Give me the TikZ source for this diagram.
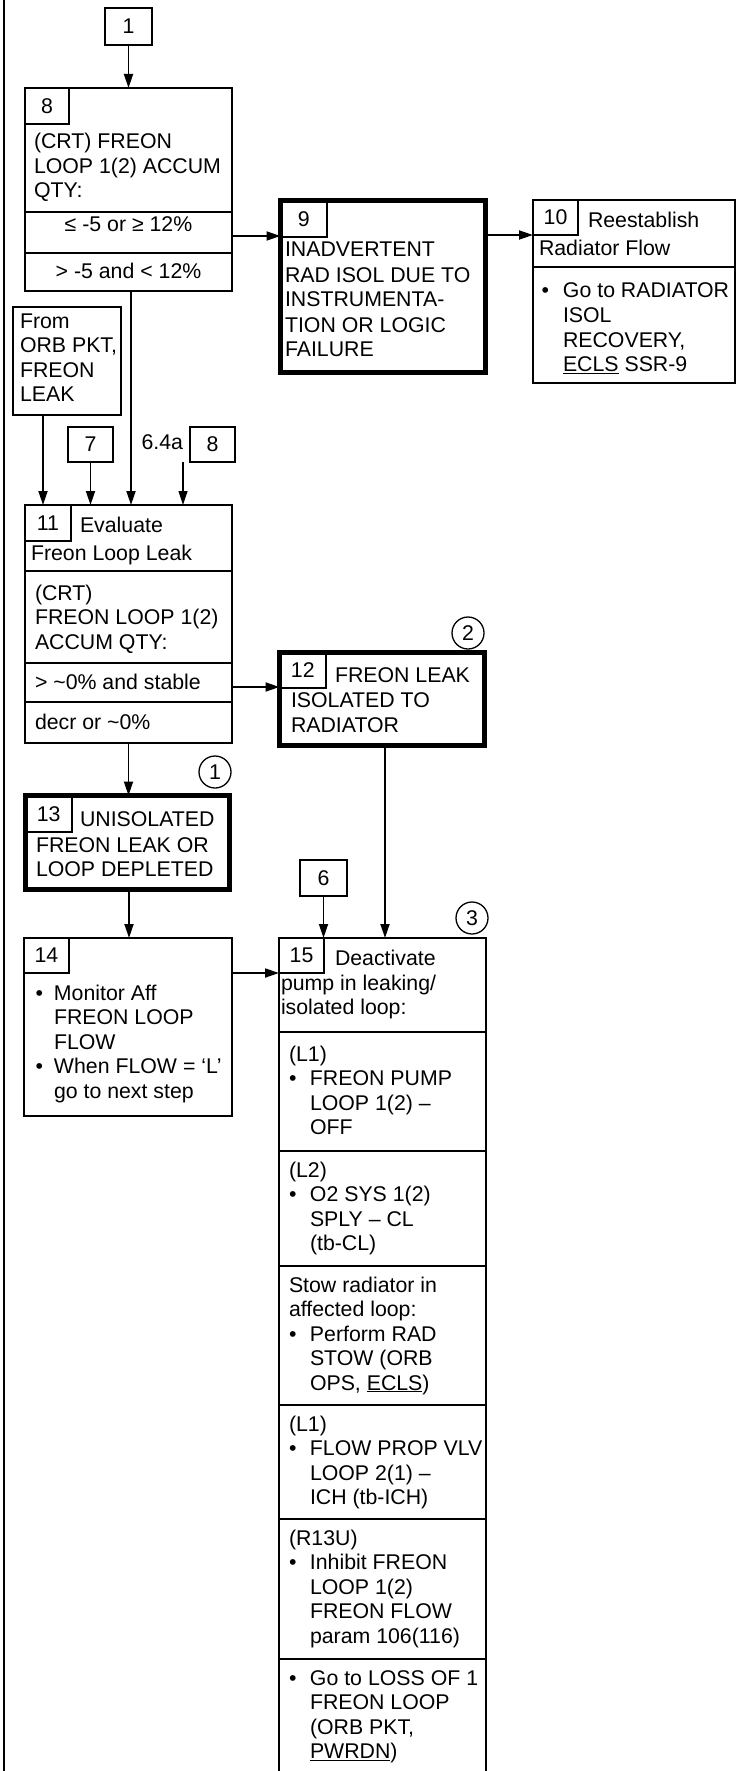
\documentclass[tikz,border=0pt]{standalone}
\usepackage{fontspec}
\setmainfont{Liberation Sans}
\usetikzlibrary{arrows.meta}
\newcommand\fs{\fontsize{21.3pt}{24.5pt}\selectfont}
\newcommand\bitm[2][21pt]{\par\hangindent=#1\hangafter=1\noindent\makebox[#1][l]{\textbullet}#2\par}
\newcommand\ptext[1]{\parbox[t]{300pt}{#1}}
\begin{document}
\begin{tikzpicture}[x=1pt,y=-1pt,
  every node/.style={font=\fs, inner sep=0pt, outer sep=0pt},
  bx/.style={draw, line width=2pt, anchor=north west, rectangle},
  thickbx/.style={draw, line width=5pt, anchor=north west, rectangle},
  tg/.style={draw, line width=1.3pt, anchor=north west, rectangle},
  txt/.style={anchor=base west},
  ctxt/.style={anchor=base},
  circ/.style={draw, circle, line width=1.3pt, minimum size=32pt},
  arr/.style={line width=1.8pt, -{Triangle[length=14pt,width=9pt]}},
  arrthin/.style={line width=1.2pt, -{Triangle[length=14pt,width=9pt]}},
  dv/.style={line width=2pt},
]
\useasboundingbox (0,0) rectangle (736,1771);
\clip (0,0) rectangle (736,1771);
\draw[line width=2.3pt] (4,0) -- (4,1771);

% box 1
\node[tg, line width=1.6pt, minimum width=47pt, minimum height=37pt] (n1) at (105,8) {1};

% step 8
\node[bx, minimum width=207pt, minimum height=203pt] (b8) at (25,88) {};
\node[tg, minimum width=44pt, minimum height=36pt] (t8) at (25,88) {8};
\draw[dv] (b8.west |- 0,212) -- (b8.east |- 0,212);
\draw[dv] (b8.west |- 0,253) -- (b8.east |- 0,253);
\node[txt] (b8a) at (34,149) {\ptext{(CRT) FREON\\LOOP 1(2) ACCUM\\QTY:}};
\node[ctxt] (b8b) at (b8.center |- 0,232) {≤ -5 or ≥ 12\%};
\node[ctxt] (b8c) at (b8.center |- 0,278) {> -5 and < 12\%};

% step 9
\node[tg, minimum width=46.5pt, minimum height=36.5pt] (t9) at (280.5,200.5) {\raisebox{-3pt}{9}};
\node[thickbx, minimum width=205pt, minimum height=172pt] (b9) at (280.5,200.5) {};
\node[txt] (b9a) at (285,257) {\ptext{\baselineskip=25pt INADVERTENT\\RAD ISOL DUE TO\\INSTRUMENTA-\\TION OR LOGIC\\FAILURE}};

% step 10
\node[bx, minimum width=202pt, minimum height=183pt] (b10) at (533,200) {};
\node[tg, minimum width=45pt, minimum height=35pt] (t10) at (533,200) {10};
\draw[dv] (b10.west |- 0,267) -- (b10.east |- 0,267);
\node[txt] (b10a) at (588,228) {Reestablish};
\node[txt] (b10b) at (539,256) {Radiator Flow};
\node[txt] (b10c) at (541.5,298) {\ptext{\bitm[21.5pt]{Go to RADIATOR\\ISOL\\RECOVERY,\\\underline{ECLS} SSR-9}}};

% from box
\node[bx, line width=1.6pt, minimum width=108pt, minimum height=108pt] (from) at (13,307) {};
\node[txt] (fromt) at (20,328) {\ptext{From\\ORB PKT,\\FREON\\LEAK}};

% boxes 7 and 8, label 6.4a
\node[tg, line width=1.6pt, minimum width=45pt, minimum height=35pt] (n7) at (68,427) {7};
\node[tg, line width=1.6pt, minimum width=45pt, minimum height=35pt] (n8) at (190,427) {8};
\node[anchor=base east] (l64) at (183,449) {6.4a};
\coordinate (c64) at (183,462);

% step 11
\node[bx, minimum width=207pt, minimum height=238pt] (b11) at (25,505) {};
\node[tg, minimum width=46pt, minimum height=36pt] (t11) at (25,505) {11};
\draw[dv] (b11.west |- 0,571) -- (b11.east |- 0,571);
\draw[dv] (b11.west |- 0,663) -- (b11.east |- 0,663);
\draw[dv] (b11.west |- 0,702) -- (b11.east |- 0,702);
\node[txt] (b11a) at (80,532) {Evaluate};
\node[txt] (b11b) at (31,560) {Freon Loop Leak};
\node[txt] (b11c) at (35,600) {\ptext{(CRT)\\FREON LOOP 1(2)\\ACCUM QTY:}};
\node[txt] (b11d) at (35,689) {> \textasciitilde0\% and stable};
\node[txt] (b11e) at (35,729) {decr or \textasciitilde0\%};

% step 12
\node[tg, minimum width=46.5pt, minimum height=35.5pt] (t12) at (279.5,652.5) {\raisebox{-2pt}{12}};
\node[thickbx, minimum width=205pt, minimum height=93pt] (b12) at (279.5,652.5) {};
\node[txt] (b12a) at (335,682) {FREON LEAK};
\node[txt] (b12b) at (291,707) {\ptext{\baselineskip=25.5pt ISOLATED TO\\RADIATOR}};
\node[circ] (c2) at (468,633) {2};

% step 13
\node[tg, minimum width=46.5pt, minimum height=36.5pt] (t13) at (25.5,795.5) {\raisebox{-2pt}{13}};
\node[thickbx, minimum width=204pt, minimum height=94pt] (b13) at (25.5,795.5) {};
\node[txt] (b13a) at (80,826) {UNISOLATED};
\node[txt] (b13b) at (36,852) {\ptext{FREON LEAK OR\\LOOP DEPLETED}};
\node[circ] (c1) at (215,772) {1};

% step 14
\node[bx, minimum width=208pt, minimum height=178pt] (b14) at (24,938) {};
\node[tg, minimum width=45pt, minimum height=35pt] (t14) at (24,938) {14};
\node[txt] (b14a) at (35.5,1000) {\ptext{\bitm[18.5pt]{Monitor Aff\\FREON LOOP\\FLOW}\bitm[18.5pt]{When FLOW = ‘L’\\go to next step}}};

% box 6
\node[tg, line width=1.6pt, minimum width=47pt, minimum height=36pt] (n6) at (300,860) {6};

% step 15
\node[bx, minimum width=207pt, minimum height=860pt] (b15) at (279,938) {};
\node[tg, minimum width=45pt, minimum height=35pt] (t15) at (279,938) {15};
\node[circ] (c3) at (472,918) {3};
\foreach \yy in {1032,1151,1266,1405,1519,1659}
  \draw[dv] (b15.west |- 0,\yy) -- (b15.east |- 0,\yy);
\node[txt] (b15a) at (335,965) {Deactivate};
\node[txt] (b15b) at (281,990) {\ptext{pump in leaking/\\isolated loop:}};
\node[txt] (s1) at (289,1061) {\ptext{(L1)\bitm{FREON PUMP\\LOOP 1(2) –\\OFF}}};
\node[txt] (s2) at (289,1177) {\ptext{(L2)\bitm{O2 SYS 1(2)\\SPLY – CL\\(tb-CL)}}};
\node[txt] (s3) at (289,1292) {\ptext{Stow radiator in\\affected loop:\bitm{Perform RAD\\STOW (ORB\\OPS, \underline{ECLS})}}};
\node[txt] (s4) at (289,1431) {\ptext{(L1)\bitm{FLOW PROP VLV\\LOOP 2(1) –\\ICH (tb-ICH)}}};
\node[txt] (s5) at (289,1545) {\ptext{(R13U)\bitm{Inhibit FREON\\LOOP 1(2)\\FREON FLOW\\param 106(116)}}};
\node[txt] (s6) at (289,1685) {\ptext{\bitm{Go to LOSS OF 1\\FREON LOOP\\(ORB PKT,\\\underline{PWRDN})}}};

% connectors
\draw[arr] (n1.south) -- (n1.south |- b8.north);
\draw[arr] (b8.east |- 0,236) -- (b9.west |- 0,236);
\draw[arr] (b9.east |- 0,235) -- (b10.west |- 0,235);
\draw[arr] (b8.south -| 131,0) -- (b11.north -| 131,0);
\draw[arr] (from.south -| 43,0) -- (b11.north -| 43,0);
\draw[arr] (n7.south) -- (n7.south |- b11.north);
\draw[arrthin] (c64) -- (c64 |- b11.north);
\draw[arr] (b11.east |- 0,687) -- (b12.west |- 0,687);
\draw[arr] (b11.south) -- (b11.south |- b13.north);
\draw[arr] (b12.south -| 385,0) -- (b15.north -| 385,0);
\draw[arr] (b13.south -| 129,0) -- (b14.north -| 129,0);
\draw[arr] (b14.east |- 0,973) -- (b15.west |- 0,973);
\draw[arr] (n6.south) -- (n6.south |- b15.north);
\end{tikzpicture}
\end{document}
